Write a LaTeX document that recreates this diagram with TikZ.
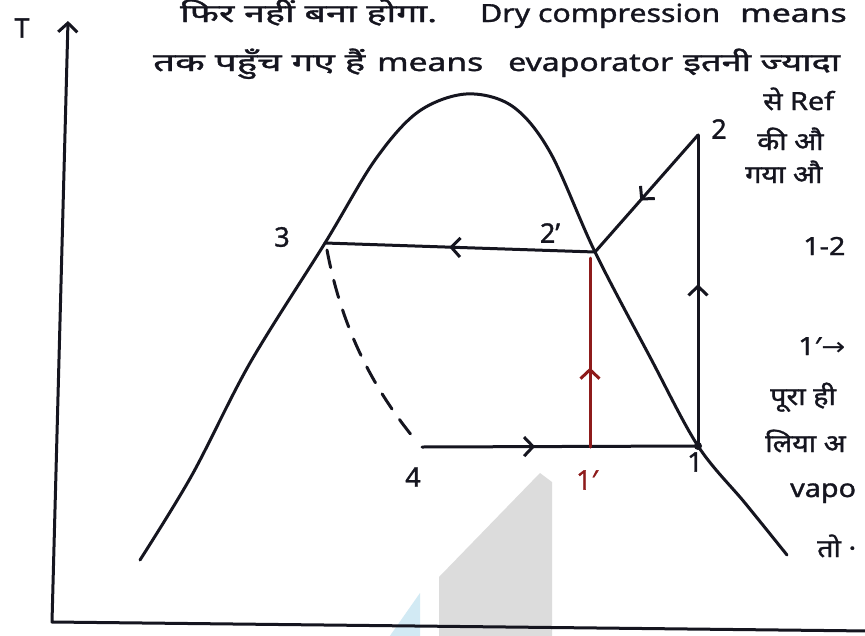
\documentclass[tikz,border=0pt]{standalone}
\usepackage{fontspec}
\setmainfont{Noto Sans}
\newfontfamily\hindi[Script=Devanagari,FakeBold=1.2]{Noto Sans}
\newfontfamily\symfont{DejaVu Sans}
\usetikzlibrary{arrows.meta,decorations.markings}
\definecolor{ink}{HTML}{15151F}
\definecolor{redink}{HTML}{8E1B1B}
\definecolor{wmgray}{HTML}{DCDCDC}
\definecolor{wmblue}{HTML}{D2EAF4}
\newcommand\fitw[2]{\resizebox{#1}{\height}{#2}}
\begin{document}
\begin{tikzpicture}[x=1pt,y=-1pt,line cap=round,line join=round,
  curve/.style={draw=ink,line width=3pt},
  midarrow/.style={postaction={decorate},decoration={markings,
     mark=at position #1 with {\arrow{Straight Barb[length=9pt,width=19pt]}}}},
  lbl/.style={font=\hindi\fontsize{27}{30}\selectfont,text=ink,inner sep=0pt},
  note/.style={font=\hindi\fontsize{25}{28}\selectfont,text=ink,anchor=base west,inner sep=0pt}]
\useasboundingbox (0,0) rectangle (865,635);
\fill[white] (0,0) rectangle (865,635);
\begin{scope}
\clip (0,0) rectangle (865,635);
% watermark
\fill[wmgray] (540,473) -- (552,482) -- (552,640) -- (439,640) -- (439,577) -- cycle;
\fill[wmblue] (387,640) -- (420,593) -- (420,640) -- cycle;
% axes
\coordinate (O) at (52,622);
\coordinate (Ytop) at (68,21);
\coordinate (Xend) at (870,631);
\draw[curve,-{Straight Barb[length=9pt,width=19pt]}] (Xend) -- (O) -- (Ytop);
\node[lbl] (T) at (22,28) {T};
% saturation dome
\draw[curve] plot[smooth,tension=0.55] coordinates {(140,560) (192,475) (250,363) (325,243) (375,160) (418,112) (466,94) (512,106) (550,152) (595,252) (650,357) (698,446) (745,503) (787,555)};
% state points
\coordinate (p3) at (325,243);
\coordinate (p2p) at (595,252);
\coordinate (p2) at (698,135);
\coordinate (p1) at (698,446);
\coordinate (p4) at (422,447);
\coordinate (p4d) at (417,442);
\coordinate (p1p) at (590,447);
\coordinate (r2) at (590,258);
% cycle lines
\draw[curve,midarrow=0.54] (p2p) -- (p3);
\draw[curve,midarrow=0.56] (p2) -- (p2p);
\draw[curve,midarrow=0.52] (p1) -- (p2);
\draw[curve,midarrow=0.41] (p4) -- (p1);
\draw[curve,dash pattern=on 18pt off 13pt] (327,250) .. controls (343,335) and (378,395) .. (p4d);
\draw[draw=redink,line width=3pt,midarrow=0.42] (p1p) -- (r2);
\fill[ink] (p1) circle (4pt);
% labels
\node[lbl] (l3) at (282,237) {3};
\node[lbl] (l2p) at (550,233) {2’};
\node[lbl] (l2) at (719,129) {2};
\node[lbl] (l4) at (413,477) {4};
\node[lbl,text=redink] (l1p) at (587,480) {1′};
\node[lbl] (l1) at (695,462) {1};
% top text
\node[note] (t1a) at (180,22) {\fitw{257pt}{फिर नहीं बना होगा.}};
\node[note] (t1b) at (480,22) {\fitw{240pt}{Dry compression}};
\node[note] (t1c) at (740,22) {\scalebox{1.35}[1]{means}};
\node[note] (t2a) at (153,71) {\fitw{212pt}{तक पहुँच गए हैं}};
\node[note] (t2b) at (377,71) {\fitw{106pt}{means}};
\node[note] (t2c) at (508,71) {\fitw{165pt}{evaporator}};
\node[note] (t2d) at (683,71) {\fitw{157pt}{इतनी ज्यादा}};
% right side text
\node[note] (r1) at (763,110) {\scalebox{1.15}[1]{से Ref}};
\node[note] (r2t) at (757,150) {\scalebox{1.15}[1]{की औ}};
\node[note] (r3) at (745,183) {\scalebox{1.15}[1]{गया औ}};
\node[note] (r4) at (803,255) {\scalebox{1.15}[1]{1-2}};
\node[note] (r5) at (798,355) {\scalebox{1.15}[1]{1′{\symfont →}}};
\node[note] (r6) at (770,405) {\scalebox{1.15}[1]{पूरा ही}};
\node[note] (r7) at (765,452) {\scalebox{1.15}[1]{लिया अ}};
\node[note] (r8) at (790,497) {\scalebox{1.15}[1]{vapo}};
\node[note] (r9) at (817,557) {\scalebox{1.15}[1]{तो ·}};
\end{scope}
\end{tikzpicture}
\end{document}
